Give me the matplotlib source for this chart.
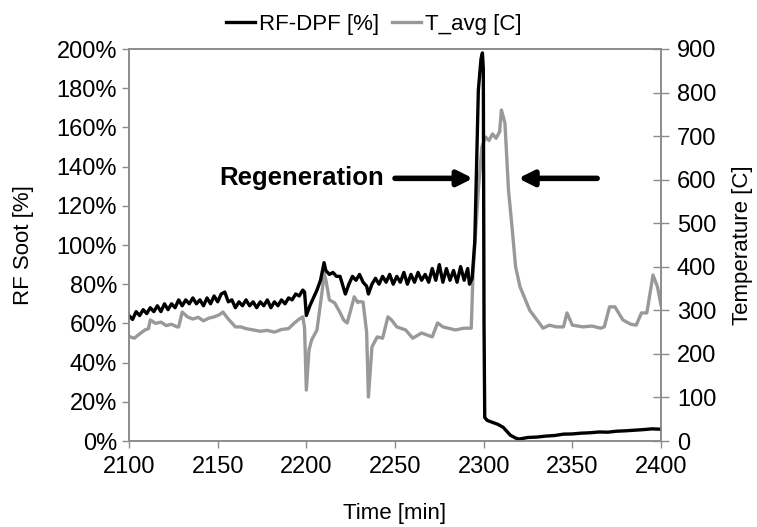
import matplotlib
matplotlib.use("Agg")
import matplotlib.pyplot as plt
from matplotlib.ticker import FuncFormatter, MultipleLocator

plt.rcParams['font.family'] = ['Liberation Sans', 'DejaVu Sans']

# RF-DPF soot signal [%]
rf_time = [2100, 2102, 2104, 2106, 2108, 2110, 2112, 2114, 2116, 2118, 2120, 2122, 2124, 2126,
           2128, 2130, 2132, 2134, 2136, 2138, 2140, 2142, 2144, 2146, 2148, 2150, 2152, 2154,
           2156, 2158, 2160, 2162, 2164, 2166, 2168, 2170, 2172, 2174, 2176, 2178, 2180, 2182,
           2184, 2186, 2188, 2190, 2192, 2194, 2196, 2198, 2199, 2200, 2202, 2204, 2206, 2208,
           2210, 2211, 2213, 2215, 2217, 2219, 2221, 2222, 2224, 2226, 2228, 2230, 2232, 2234,
           2235, 2237, 2239, 2241, 2243, 2245, 2247, 2249, 2251, 2253, 2255, 2257, 2259, 2261,
           2263, 2265, 2267, 2269, 2271, 2273, 2275, 2277, 2279, 2281, 2283, 2285, 2287, 2289,
           2291, 2292, 2293.5, 2295, 2296, 2297, 2298.5, 2299.3, 2299.8, 2300.2, 2300.6, 2302,
           2305, 2308, 2311, 2313, 2315, 2318, 2320, 2325, 2330, 2335, 2340, 2345, 2350, 2355,
           2360, 2365, 2370, 2375, 2380, 2385, 2390, 2395, 2400]
rf_soot = [64, 62, 66, 64, 67, 65, 68, 66, 69, 66, 70, 67, 70, 68,
           72, 69, 72, 70, 73, 70, 72, 69, 73, 70, 74, 71, 75, 76,
           71, 72, 68, 71, 69, 72, 69, 71, 68, 71, 69, 72, 68, 71,
           69, 72, 70, 73, 72, 75, 74, 77, 76, 64, 69, 73, 77, 82,
           91, 87, 85, 86, 84, 84, 78, 75, 80, 84, 82, 85, 81, 79,
           75, 80, 83, 80, 84, 81, 85, 80, 84, 81, 86, 80, 85, 81,
           86, 82, 85, 81, 88, 82, 90, 81, 88, 82, 87, 81, 89, 82,
           88, 80, 83, 102, 140, 179, 195, 198, 190, 60, 12, 10.5,
           9.5, 8.5, 7, 5, 3, 1.5, 1, 1.8, 2.0, 2.5, 2.8, 3.5, 3.6, 4.0,
           4.2, 4.6, 4.5, 5, 5.2, 5.5, 5.8, 6.2, 6.0]

# average temperature [C]
t_time = [2100, 2103, 2106, 2109, 2111, 2112, 2115, 2118, 2121, 2124, 2127, 2128, 2130, 2133,
          2136, 2139, 2142, 2145, 2148, 2151, 2153, 2156, 2160, 2163, 2166, 2170, 2174, 2178,
          2182, 2186, 2190, 2193, 2196, 2198, 2199, 2200, 2201.5, 2203, 2206, 2209, 2210, 2211,
          2213, 2216, 2219, 2221, 2223, 2225, 2227, 2229, 2230, 2232, 2234, 2235, 2237, 2240,
          2243, 2246, 2248, 2251, 2256, 2260, 2265, 2271, 2274, 2277, 2284, 2289, 2293, 2294,
          2297, 2299, 2301, 2303, 2305, 2307, 2309, 2310, 2312, 2314, 2316, 2318, 2320.5, 2326,
          2333.5, 2337, 2341, 2345, 2347, 2350, 2356, 2361, 2366, 2368, 2371, 2374, 2378.5, 2383,
          2386, 2389, 2392, 2395.5, 2398, 2400]
t_avg = [240, 236, 246, 255, 258, 278, 270, 273, 265, 268, 262, 262, 296, 285,
         280, 284, 276, 282, 285, 290, 296, 280, 262, 262, 258, 255, 252, 254,
         250, 256, 258, 270, 280, 285, 260, 117, 209, 232, 255, 347, 386, 370,
         324, 317, 295, 278, 271, 300, 331, 318, 320, 319, 250, 101, 216, 239,
         236, 285, 278, 262, 255, 236, 248, 239, 271, 262, 255, 259, 259, 386,
         576, 675, 698, 690, 705, 695, 710, 760, 730, 576, 491, 400, 354, 300,
         259, 266, 262, 262, 294, 266, 262, 264, 259, 262, 308, 308, 278, 268,
         266, 294, 294, 381, 354, 312]

axis_grey = '#8c8c8c'
fs = 16
tfs = 17

fig = plt.figure(figsize=(7.57, 5.27), dpi=100)
ax = fig.add_axes((129 / 757, 1 - 441 / 527, 532 / 757, 392 / 527))
ax2 = ax.twinx()

l2, = ax2.plot(t_time, t_avg, color='#999999', lw=2.4, label='T_avg [C]')
l1, = ax.plot(rf_time, rf_soot, color='black', lw=2.4, label='RF-DPF [%]')
ax.set_zorder(ax2.get_zorder() + 1)
ax.patch.set_visible(False)

ax.set_xlim(2100, 2400)
ax.set_ylim(0, 200)
ax2.set_ylim(0, 900)
ax.xaxis.set_major_locator(MultipleLocator(50))
ax.yaxis.set_major_locator(MultipleLocator(20))
ax2.yaxis.set_major_locator(MultipleLocator(100))
ax.yaxis.set_major_formatter(FuncFormatter(lambda v, p: '%d%%' % v))

for a in (ax, ax2):
    for s in a.spines.values():
        s.set_color(axis_grey)
        s.set_linewidth(1.2)
ax.tick_params(axis='both', colors=axis_grey, labelcolor='black', labelsize=tfs, width=1, length=5, direction='out')
ax.tick_params(axis='x', pad=6)
ax2.tick_params(axis='y', colors=axis_grey, labelcolor='black', labelsize=tfs, width=1, length=11,
                direction='inout', pad=6)

ax.set_xlabel('Time [min]', fontsize=fs, labelpad=18)
ax.set_ylabel('RF Soot [%]', fontsize=fs, labelpad=16)
ax2.set_ylabel('Temperature [C]', fontsize=fs, labelpad=11)

ax.text(2244, 134, 'Regeneration', fontsize=18.5, fontweight='bold', ha='right', va='center')
arrow = dict(arrowstyle='-|>,head_length=0.9,head_width=0.45', color='black', lw=4, shrinkA=0, shrinkB=0)
ax.annotate('', xy=(2294, 134), xytext=(2250, 134), arrowprops=arrow)
ax.annotate('', xy=(2319.5, 134), xytext=(2364, 134), arrowprops=arrow)

fig.legend(handles=[l1, l2], loc='upper center', bbox_to_anchor=(0.494, 1.012), ncol=2, frameon=False,
           fontsize=fs, handlelength=1.3, handletextpad=0.2, columnspacing=0.55)

fig.savefig('out.png', dpi=100)
